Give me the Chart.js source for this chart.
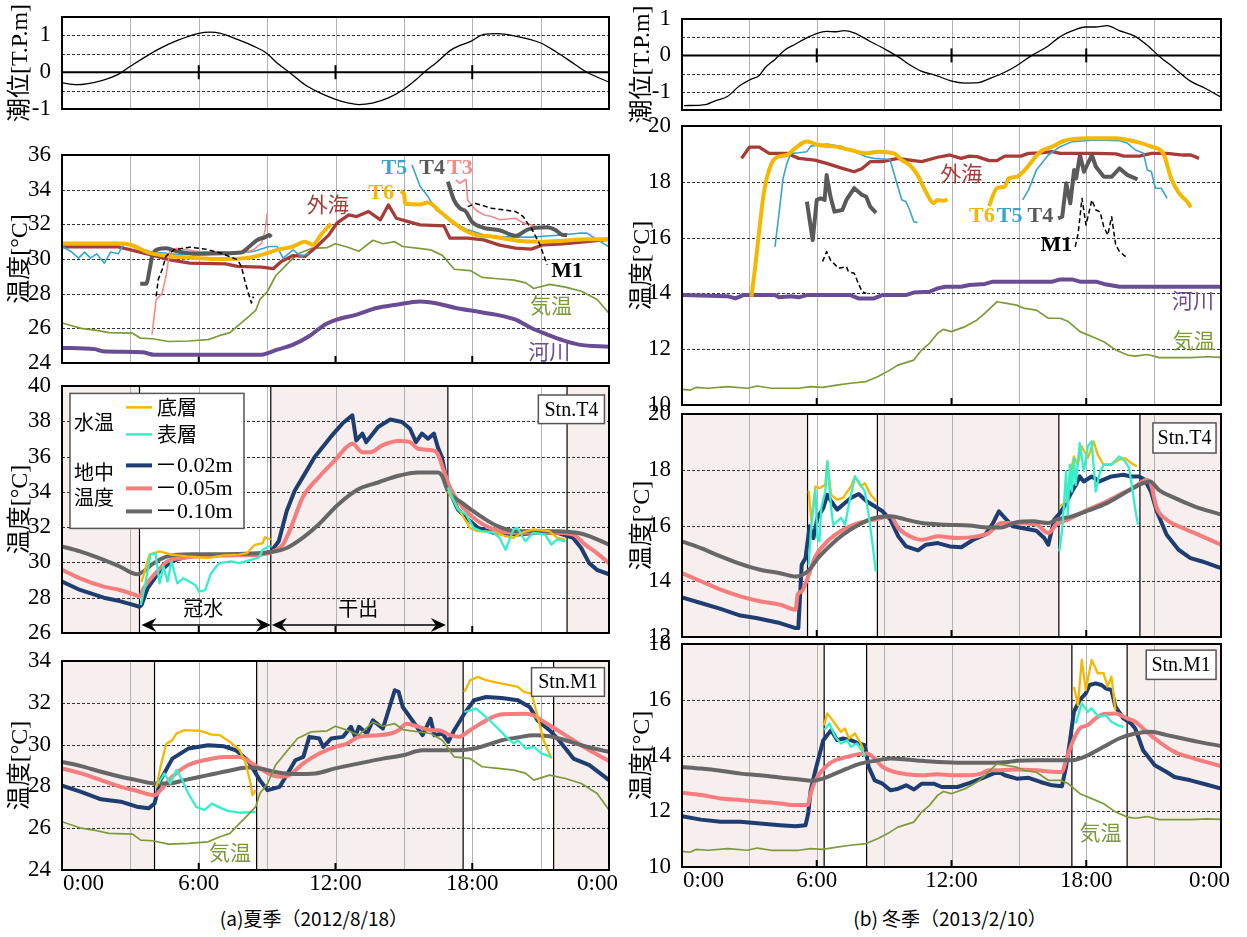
<!DOCTYPE html>
<html>
<head>
<meta charset="utf-8">
<script src="https://cdn.jsdelivr.net/npm/chart.js@4"></script>
<style>
  body { margin: 0; background: #fff; width: 1247px; height: 937px; position: relative; overflow: hidden; }
  canvas { position: absolute; }
  .cap { position: absolute; width: 320px; text-align: center; font-family: "Noto Sans CJK JP", sans-serif; font-size: 19px; line-height: 24px; color: #000; }
</style>
</head>
<body>
<div class="cap" style="left:154px;top:906px">(a)夏季（2012/8/18）</div>
<div class="cap" style="left:790px;top:906px">(b) 冬季（2013/2/10）</div>
<script>
// ---- summer (2012/8/18) : [hour, value] ----
const tideSummer = [[0,-0.29],[0.64,-0.34],[1.78,-0.22],[2.47,-0.06],[3.0,0.16],[4.22,0.62],[5.09,0.87],[5.96,1.05],[6.48,1.09],[7.0,1.05],[7.7,0.89],[8.4,0.71],[8.95,0.53],[9.44,0.25],[9.97,0],[10.66,-0.34],[11.18,-0.52],[11.97,-0.73],[12.58,-0.84],[13.01,-0.88],[13.62,-0.84],[14.32,-0.7],[14.98,-0.47],[15.54,-0.2],[15.89,0],[16.41,0.25],[17.11,0.62],[17.98,0.85],[18.5,1.03],[19.11,1.05],[19.9,0.98],[20.98,0.8],[21.64,0.57],[22.51,0.21],[23.03,0],[24,-0.27]];

const seaSummer = [[0,30.7],[2.47,30.7],[3.87,30.25],[4.74,29.95],[5.61,29.76],[7.18,29.72],[7.7,29.57],[8.75,29.53],[9.27,29.44],[9.62,29.86],[10.14,30.2],[10.66,30.15],[11.18,30.72],[11.71,31.39],[12.06,32.07],[12.58,32.55],[12.93,32.45],[13.45,32.74],[13.97,32.26],[14.32,33.12],[14.67,32.35],[15.19,32.16],[15.71,31.97],[16.76,31.91],[17.02,31.2],[17.8,31.2],[18.5,31.1],[19.2,30.8],[19.9,30.63],[20.59,30.57],[21.11,30.82],[21.99,30.88],[23.03,31.0],[24,31.14]];
const t6SummerA = [[0,30.9],[2.47,30.9],[3.0,30.82],[3.87,30.34],[4.91,30.15],[5.96,30.05],[7.0,30.0],[8.05,30.05],[8.75,30.24],[9.44,30.53],[10.14,30.72],[10.66,31.0],[11.01,30.82],[11.36,31.39],[11.8,32.03]];
const t6SummerB = [[14.85,33.9],[15.02,33.7],[15.05,33.2],[15.71,33.15],[16.06,33.26],[16.58,32.74],[17.11,32.16],[17.63,31.68],[18.15,31.39],[18.85,31.3],[19.9,31.07],[20.94,31.0],[21.99,31.05],[23.03,31.14],[24,31.14]];
const t5SummerA = [[0,30.72],[0.38,30.45],[0.73,30.05],[0.99,30.4],[1.25,30.05],[1.52,30.3],[1.86,29.76],[2.13,30.4],[2.47,30.3],[2.73,30.95],[3.17,30.7],[3.87,30.43],[5.09,30.25],[6.31,30.3],[7.7,30.33],[8.4,30.43],[9.09,30.72],[9.44,30.72],[9.7,30.05],[10.14,30.53],[10.49,30.15],[10.84,30.33]];
const t5SummerB = [[15.36,35.42],[15.71,34.18],[16.06,33.6],[16.41,32.83],[16.76,32.55],[17.11,32.16],[17.8,31.68],[18.5,31.4],[19.2,31.3],[19.9,31.26],[20.59,31.26],[21.29,31.33],[21.99,31.39],[22.68,31.49],[23.03,31.49],[23.38,31.2],[24,30.7]];
const t4SummerA = [[3.43,28.57],[3.69,28.57],[3.87,29.57],[3.95,30.15],[4.22,30.57],[4.56,30.62],[5.09,30.43],[5.96,30.3],[7.0,30.33],[7.87,30.38],[8.22,30.72],[8.57,31.1],[8.92,31.26],[9.09,31.39],[9.18,31.26]];
const t4SummerB = [[16.93,34.46],[17.2,33.4],[17.46,32.93],[17.72,32.74],[17.98,32.16],[18.5,31.8],[19.2,31.66],[19.9,31.34],[20.42,31.7],[21.29,31.83],[21.64,31.68],[21.99,31.39],[22.16,31.39]];
const t3SummerA = [[3.95,25.64],[4.13,27.65],[4.39,28.0],[4.56,29.0],[4.74,30.53],[5.09,30.62],[5.96,30.43],[7.0,30.38],[7.87,30.33],[8.4,30.53],[8.75,30.91],[8.92,31.68],[9.0,32.64]];
const t3SummerB = [[17.28,34.56],[17.46,34.37],[17.72,34.6],[17.8,33.4],[18.15,32.83],[18.5,32.55],[18.85,32.45],[19.2,32.26],[19.9,32.35],[20.24,32.07],[20.59,31.97],[20.94,31.78]];
const m1SummerA = [[4.13,27.84],[4.22,28.8],[4.39,29.38],[4.56,30.15],[4.91,30.53],[5.61,30.68],[6.31,30.57],[7.0,30.33],[7.7,29.95],[7.87,29.57],[8.05,28.6],[8.31,27.46],[8.4,27.84]];
const m1SummerB = [[17.8,33.02],[18.15,33.2],[18.85,32.93],[19.9,32.74],[20.24,32.45],[20.42,32.07],[20.59,31.78],[20.94,30.91],[21.29,29.67]];
const airSummer = [[0,26.31],[0.84,26.0],[1.53,25.88],[2.06,25.75],[3.1,25.72],[3.45,25.43],[3.97,25.4],[4.67,25.24],[5.54,25.27],[6.41,25.35],[6.93,25.59],[7.37,25.75],[7.8,26.24],[8.15,26.63],[8.5,27.03],[8.68,27.66],[9.02,28.14],[9.37,29.02],[9.9,29.73],[10.33,30.29],[10.94,30.61],[11.64,30.66],[11.99,30.88],[12.51,30.69],[13.03,30.45],[13.64,31.08],[14.08,30.88],[14.6,31.0],[14.95,30.72],[15.65,30.61],[16.17,30.53],[16.69,30.21],[17.21,29.41],[17.91,29.33],[18.43,28.94],[19.13,28.86],[19.83,28.78],[20.35,28.62],[20.7,28.3],[21.39,28.54],[22.09,28.38],[22.79,28.14],[23.48,27.66],[24,26.87]];
const riverSummer = [[0,24.87],[1.43,24.8],[1.78,24.68],[3.52,24.62],[4.04,24.48],[5.96,24.48],[8.75,24.48],[9.44,24.77],[10.14,25.06],[10.84,25.54],[11.53,26.21],[12.06,26.5],[12.93,26.79],[13.8,27.17],[14.67,27.36],[15.71,27.55],[16.41,27.45],[17.28,27.17],[18.15,26.98],[19.03,26.79],[19.9,26.5],[20.59,26.02],[21.29,25.64],[21.99,25.3],[22.68,25.06],[24,24.93]];

// Stn.T4 summer
const dryT4S = [[0,3.4],[9.16,16.93],[22.16,24]];
const bottomT4SA = [[3.49,28.9],[3.84,30.44],[4.28,30.63],[4.8,30.44],[5.5,30.34],[6.37,30.25],[7.07,30.4],[7.77,30.44],[8.12,30.53],[8.46,31.0],[8.81,31.1],[8.9,31.43],[9.16,31.3]];
const bottomT4SB = [[16.93,34.06],[17.37,33.1],[17.9,31.96],[18.25,31.77],[18.94,31.73],[19.46,31.49],[19.81,31.39],[20.16,31.68],[20.68,31.87],[21.38,31.77],[21.73,31.39],[22.08,31.3]];
const surfT4SA = [[3.46,27.58],[3.66,28.82],[3.88,30.44],[4.1,30.53],[4.28,28.82],[4.45,29.77],[4.63,28.91],[4.8,30.06],[5.06,28.82],[5.32,29.1],[5.85,28.72],[6.02,28.34],[6.28,28.43],[6.54,29.39],[6.89,29.96],[7.42,30.06],[7.77,29.96],[8.29,30.15],[8.64,30.29],[8.81,30.72],[9.07,30.91],[9.16,30.91]];
const surfT4SB = [[16.93,34.25],[17.37,33.0],[17.72,32.72],[18.06,31.96],[18.41,31.77],[18.94,31.68],[19.2,31.39],[19.46,30.72],[19.81,31.87],[19.98,31.96],[20.33,31.2],[20.68,31.68],[21.2,31.58],[21.47,31.01],[21.73,31.3],[22.08,31.2]];
const d02T4S = [[0,28.91],[0.79,28.44],[1.83,28.0],[2.53,27.81],[3.05,27.62],[3.4,27.49],[3.49,27.58],[3.75,28.53],[4.28,29.49],[4.8,30.06],[5.5,30.34],[6.89,30.4],[8.64,30.44],[9.16,30.6],[9.51,31.2],[9.86,32.91],[10.21,34.06],[10.56,34.82],[11.08,35.96],[11.78,37.1],[12.3,37.87],[12.74,38.34],[12.91,36.91],[13.18,37.3],[13.35,36.82],[13.87,37.68],[14.4,38.1],[14.92,37.96],[15.27,37.58],[15.53,36.82],[15.79,37.3],[16.06,37.01],[16.32,37.3],[16.49,36.53],[16.67,35.96],[16.93,34.25],[17.37,33.0],[17.9,32.34],[18.25,31.96],[18.94,31.68],[19.98,31.58],[20.86,31.68],[21.73,31.68],[22.43,31.39],[22.78,30.82],[23.13,29.96],[23.47,29.58],[24,29.33]];
const d05T4S = [[0,29.58],[0.79,29.1],[1.83,28.63],[2.53,28.44],[3.23,28.15],[3.4,28.06],[3.58,28.53],[4.1,29.39],[4.62,30.06],[5.32,30.25],[6.89,30.4],[8.64,30.44],[9.34,30.67],[9.69,31.01],[10.04,31.96],[10.56,33.68],[11.26,34.82],[11.96,35.77],[12.48,36.53],[12.74,36.72],[13.18,36.25],[13.53,36.25],[14.05,36.63],[14.75,36.88],[15.27,36.82],[15.62,36.44],[16.32,36.34],[16.49,36.15],[16.75,35.2],[17.02,34.25],[17.54,33.2],[18.25,32.34],[19.11,31.81],[19.98,31.68],[21.73,31.68],[22.43,31.58],[22.95,31.01],[23.47,30.53],[24,29.96]];
const d10T4S = [[0,30.91],[0.79,30.63],[1.83,30.15],[2.53,29.77],[3.32,29.33],[3.58,29.49],[3.93,29.87],[4.62,30.34],[5.67,30.47],[7.07,30.47],[9.16,30.59],[9.86,30.82],[10.56,31.39],[11.26,32.15],[12.13,33.3],[13.0,34.15],[13.87,34.53],[14.75,34.91],[15.62,35.1],[16.49,35.1],[16.67,34.91],[16.93,34.06],[17.54,33.39],[18.25,32.72],[19.11,32.06],[19.98,31.77],[21.73,31.77],[22.6,31.68],[23.13,31.49],[24,31.01]];

// Stn.M1 summer
const dryM1S = [[0,4.06],[8.54,17.6],[21.57,24]];
const bottomM1SA = [[4.15,27.98],[4.32,28.94],[4.58,30.05],[4.84,30.21],[5.02,30.53],[5.37,30.69],[6.06,30.66],[6.58,30.48],[6.93,30.45],[7.37,30.13],[7.8,29.73],[8.06,29.1],[8.24,28.3],[8.36,27.58],[8.5,27.82]];
const bottomM1SB = [[17.65,32.52],[17.91,33.08],[18.26,33.24],[18.61,33.08],[19.13,32.95],[19.65,32.84],[20.0,32.76],[20.26,32.52],[20.61,32.44],[20.87,31.32],[21.13,30.21],[21.48,29.33]];
const surfM1SA = [[4.23,28.14],[4.49,28.62],[4.75,28.14],[5.02,28.78],[5.28,28.3],[5.54,27.66],[5.89,27.02],[6.24,26.87],[6.58,27.18],[6.85,27.02],[7.28,26.83],[7.8,26.74],[8.5,26.78]];
const surfM1SB = [[17.65,31.56],[17.91,31.64],[18.17,31.72],[18.61,31.32],[19.13,30.77],[19.48,30.37],[19.83,30.05],[20.0,30.21],[20.35,29.81],[20.7,29.89],[21.05,29.57],[21.48,29.41]];
const d02M1S = [[0,28.03],[0.84,27.74],[1.71,27.38],[2.58,27.27],[3.28,27.03],[3.8,26.95],[4.06,27.18],[4.32,28.3],[4.84,29.33],[5.54,29.81],[6.41,29.97],[7.11,29.92],[7.63,29.73],[8.15,29.25],[8.68,28.3],[9.02,27.82],[9.55,27.98],[9.9,28.62],[10.24,29.25],[10.59,29.41],[10.85,30.37],[11.29,30.29],[11.46,29.89],[11.81,30.29],[12.33,30.37],[12.68,30.85],[12.86,30.37],[13.03,30.85],[13.38,30.53],[13.64,31.16],[14.08,30.77],[14.6,32.6],[14.77,32.52],[14.95,31.8],[15.47,31.0],[15.82,30.45],[16.17,31.24],[16.34,30.45],[16.69,30.53],[16.95,30.13],[17.21,30.69],[17.65,31.48],[18.08,32.12],[18.61,32.28],[19.3,32.23],[20.0,32.12],[20.52,31.8],[20.87,31.16],[21.39,30.69],[21.74,30.29],[22.44,29.33],[23.14,29.02],[24,28.3]];
const d05M1S = [[0,28.86],[0.84,28.62],[1.71,28.3],[2.58,27.98],[3.28,27.79],[4.06,27.58],[4.32,27.82],[4.84,28.46],[5.54,29.02],[6.41,29.29],[7.11,29.41],[7.8,29.41],[8.24,29.17],[8.68,28.86],[9.2,28.54],[9.55,28.46],[9.9,28.5],[10.59,29.1],[11.29,29.57],[11.99,29.89],[12.51,30.05],[13.03,30.37],[13.9,30.45],[14.43,30.53],[14.77,30.69],[15.12,31.0],[15.65,30.85],[16.17,30.69],[16.52,30.69],[17.04,30.45],[17.39,30.37],[17.91,30.69],[18.61,31.16],[19.3,31.45],[20.35,31.48],[20.7,31.4],[21.05,31.16],[21.74,30.69],[22.44,30.21],[23.14,29.73],[24,29.22]];
const d10M1S = [[0,29.17],[0.84,28.97],[1.71,28.7],[2.58,28.46],[3.28,28.3],[4.06,28.14],[4.67,28.14],[5.37,28.3],[6.41,28.54],[7.28,28.74],[8.15,28.9],[8.68,28.86],[9.55,28.65],[10.24,28.59],[11.11,28.62],[11.99,28.86],[13.03,29.1],[14.08,29.33],[14.95,29.49],[15.82,29.73],[16.52,29.73],[17.39,29.73],[18.08,29.81],[18.61,29.97],[19.3,30.21],[20.0,30.34],[20.7,30.45],[21.39,30.4],[22.09,30.21],[22.79,29.97],[24,29.65]];

// ---- winter (2013/2/10) ----
const tideWinter = [[0.09,-1.38],[1.06,-1.35],[1.5,-1.24],[2.02,-1.13],[2.55,-0.84],[3.08,-0.65],[3.43,-0.56],[3.7,-0.34],[4.14,-0.11],[4.58,0.15],[5.02,0.3],[5.55,0.48],[5.99,0.6],[6.43,0.66],[6.87,0.65],[7.22,0.68],[7.66,0.62],[8.36,0.39],[9.07,0.16],[9.68,-0.06],[10.12,-0.25],[10.65,-0.43],[11.36,-0.56],[11.97,-0.7],[12.59,-0.76],[13.2,-0.75],[13.64,-0.65],[14.35,-0.47],[14.88,-0.29],[15.58,0],[16.29,0.25],[16.82,0.51],[17.52,0.71],[17.96,0.78],[18.4,0.78],[18.93,0.82],[19.44,0.69],[20.16,0.53],[20.77,0.25],[21.21,0],[21.9,-0.34],[22.62,-0.7],[23.31,-0.91],[24,-1.15]];

const seaWinter = [[2.65,18.84],[3.0,19.24],[3.44,19.24],[3.88,19.02],[4.67,19.02],[5.2,18.84],[5.91,18.78],[6.44,18.66],[7.14,18.48],[7.67,18.36],[8.02,18.48],[8.38,18.72],[8.91,18.72],[9.61,18.84],[10.32,18.76],[10.67,18.72],[11.38,18.88],[11.9,18.96],[12.43,18.84],[12.79,18.92],[13.14,18.9],[13.67,18.76],[14.02,18.76],[14.37,18.92],[15.08,18.92],[15.43,19.02],[15.96,19.04],[16.49,19.08],[16.84,19.02],[17.55,19.02],[18.43,19.02],[19.32,19.0],[19.67,18.92],[20.37,18.92],[20.9,19.02],[21.6,19.02],[22.31,18.96],[22.66,18.96],[23.02,18.84]];
const t6WinterA = [[3.09,13.88],[3.26,14.96],[3.44,16.27],[3.62,17.47],[3.79,18.18],[4.14,18.84],[4.67,18.96],[5.03,19.2],[5.56,19.44],[6.08,19.32],[6.79,19.26],[7.5,19.14],[8.2,19.02],[8.73,19.08],[9.44,19.02],[9.79,18.78],[10.14,18.6],[10.49,18.24],[10.85,17.65],[11.2,17.23],[11.38,17.35],[11.64,17.32],[11.82,17.37]];
const t6WinterB = [[13.67,17.13],[14.02,17.77],[14.37,17.83],[14.55,18.12],[14.9,18.18],[15.26,18.42],[15.96,19.08],[16.49,19.26],[17.02,19.47],[18.07,19.56],[19.3,19.56],[20.19,19.44],[20.9,19.26],[21.43,19.02],[21.78,18.12],[22.13,17.59],[22.49,17.29],[22.66,17.08]];
const t5WinterA = [[4.14,15.67],[4.32,16.87],[4.5,18.12],[4.67,18.66],[4.85,19.02],[5.2,19.04],[5.56,19.08],[5.73,19.28],[6.08,19.32],[6.44,19.35],[7.14,19.26],[7.85,19.02],[8.2,18.9],[8.55,18.84],[9.26,18.8],[9.44,18.3],[9.61,17.83],[9.79,17.35],[9.97,17.29],[10.14,16.99],[10.32,16.57],[10.49,16.54]];
const t5WinterB = [[15.17,17.35],[15.43,17.71],[15.78,18.42],[16.31,18.96],[16.84,19.26],[17.37,19.44],[18.43,19.5],[19.48,19.47],[19.84,19.38],[20.19,19.14],[20.55,19.02],[20.72,18.42],[20.9,18.36],[21.08,17.77],[21.34,17.77],[21.6,17.41]];
const t4WinterA = [[5.56,17.29],[5.82,15.91],[6.0,17.35],[6.17,17.41],[6.35,17.35],[6.44,18.24],[6.61,17.47],[6.79,16.93],[7.14,16.99],[7.32,17.35],[7.67,17.77],[8.02,17.53],[8.2,17.47],[8.38,17.11],[8.64,16.89]];
const t4WinterB = [[16.75,16.69],[16.93,16.75],[17.11,17.95],[17.29,17.23],[17.46,18.42],[17.55,18.12],[17.72,18.96],[17.9,18.36],[18.25,18.96],[18.43,18.54],[18.78,18.18],[19.13,18.18],[19.48,18.48],[19.84,18.24],[20.28,18.09]];
const m1WinterA = [[6.26,15.14],[6.44,15.5],[6.61,15.2],[6.97,14.9],[7.32,14.96],[7.41,14.78],[7.67,14.72],[7.85,14.36],[8.02,14.06],[8.2,14.0]];
const m1WinterB = [[17.51,15.67],[17.64,16.15],[17.81,17.41],[17.99,16.45],[18.25,17.35],[18.43,16.99],[18.61,16.93],[18.78,16.39],[18.96,16.09],[19.13,16.75],[19.31,15.74],[19.48,15.5],[19.75,15.32]];
const riverWinter = [[0,13.94],[2.03,13.9],[2.38,13.82],[2.73,13.94],[4.14,13.94],[4.32,13.86],[4.85,13.9],[5.2,13.86],[5.56,13.94],[7.5,13.94],[7.85,13.82],[8.55,13.82],[8.91,13.94],[9.96,13.94],[10.32,14.03],[11.02,14.06],[11.38,14.18],[11.73,14.24],[12.43,14.24],[12.79,14.3],[13.49,14.34],[13.84,14.42],[16.49,14.42],[16.84,14.5],[17.37,14.5],[17.72,14.42],[18.43,14.42],[18.78,14.34],[19.48,14.24],[24,14.24]];
const airWinter = [[0,10.56],[0.35,10.53],[0.62,10.63],[1.15,10.6],[2.03,10.66],[2.91,10.6],[3.35,10.68],[3.97,10.6],[5.2,10.6],[5.73,10.66],[6.26,10.63],[6.97,10.72],[7.5,10.78],[8.2,10.84],[8.73,11.02],[9.26,11.25],[9.61,11.43],[10.32,11.61],[10.67,11.97],[11.02,12.21],[11.38,12.57],[11.64,12.71],[11.99,12.63],[12.61,12.81],[13.14,13.05],[13.49,13.29],[14.02,13.7],[14.46,13.64],[14.9,13.58],[15.26,13.46],[15.78,13.4],[16.31,13.11],[16.84,13.11],[17.2,12.99],[17.72,12.63],[18.43,12.39],[18.78,12.27],[19.31,11.97],[19.84,11.79],[20.19,11.75],[20.72,11.81],[21.25,11.7],[21.96,11.7],[22.66,11.7],[23.37,11.73],[24,11.71]];

// Stn.T4 winter
const dryT4W = [[0,5.59],[8.7,16.78],[20.39,24]];
const bottomT4WA = [[5.64,17.25],[5.76,16.15],[5.94,17.4],[6.12,17.34],[6.38,17.46],[6.47,18.3],[6.64,17.1],[6.91,16.93],[7.17,16.99],[7.52,17.4],[7.7,17.76],[7.96,17.4],[8.14,17.52],[8.4,17.1],[8.66,16.87]];
const bottomT4WB = [[16.84,16.69],[17.1,16.87],[17.27,17.76],[17.45,18.48],[17.62,18.18],[17.8,18.84],[18.07,18.42],[18.33,19.02],[18.51,18.54],[18.77,18.18],[19.12,18.2],[19.47,18.36],[19.73,18.42],[20.0,18.24],[20.26,18.12]];
const surfT4WA = [[5.64,14.59],[5.76,16.03],[5.94,17.28],[6.03,15.55],[6.12,15.43],[6.2,16.63],[6.38,17.22],[6.47,18.3],[6.64,16.63],[6.73,16.03],[6.91,16.15],[7.08,16.27],[7.26,16.03],[7.43,16.75],[7.7,17.76],[7.96,17.46],[8.14,17.22],[8.31,16.39],[8.49,15.31],[8.63,14.35]];
const surfT4WB = [[16.8,15.07],[16.92,15.79],[17.01,16.75],[17.1,17.94],[17.18,16.39],[17.27,18.18],[17.36,17.22],[17.45,18.42],[17.53,17.46],[17.71,18.96],[17.89,17.94],[18.07,18.84],[18.24,19.02],[18.42,17.22],[18.6,17.88],[18.77,18.18],[19.12,18.18],[19.47,18.48],[19.73,18.3],[19.91,18.06],[20.09,17.1],[20.17,16.63],[20.3,16.03]];
const d02T4W = [[0,13.42],[0.84,13.22],[1.72,13.01],[2.6,12.77],[3.3,12.68],[4.36,12.5],[5.06,12.32],[5.18,12.32],[5.33,14.59],[5.5,14.83],[5.68,15.97],[5.85,15.55],[6.03,16.27],[6.29,16.63],[6.47,17.1],[6.64,16.87],[6.91,16.57],[7.17,16.75],[7.52,16.99],[7.87,17.13],[8.22,16.87],[8.58,16.69],[8.93,16.51],[9.28,16.21],[9.63,15.61],[9.98,15.25],[10.51,15.11],[10.86,15.31],[11.39,15.37],[11.92,15.25],[12.44,15.22],[12.97,15.49],[13.5,15.67],[13.85,16.09],[14.11,16.51],[14.38,16.27],[14.73,15.97],[15.25,15.89],[15.78,15.81],[16.13,15.55],[16.31,15.31],[16.57,16.21],[16.84,16.45],[17.1,16.81],[17.36,17.22],[17.54,17.46],[17.71,17.76],[17.89,17.58],[18.24,17.76],[18.59,17.58],[19.12,17.76],[19.65,17.82],[20.0,17.76],[20.35,17.76],[20.61,17.64],[20.88,17.22],[21.14,16.51],[21.58,15.67],[22.11,15.13],[22.64,14.83],[23.16,14.71],[24,14.47]];
const d05T4W = [[0,14.29],[0.84,14.0],[1.72,13.7],[2.6,13.46],[3.48,13.28],[4.36,13.16],[5.06,12.98],[5.15,13.52],[5.33,13.64],[5.59,14.11],[5.94,14.89],[6.47,15.43],[7.17,15.85],[7.87,16.09],[8.58,16.21],[9.28,16.33],[9.63,15.91],[10.33,15.55],[10.68,15.49],[11.39,15.61],[12.27,15.55],[13.15,15.61],[13.67,15.73],[14.2,16.09],[14.9,16.09],[15.78,16.03],[16.31,15.73],[16.66,16.03],[17.19,16.21],[18.07,16.57],[18.77,16.81],[19.47,17.1],[20.18,17.4],[20.7,17.64],[20.88,17.46],[21.14,16.63],[21.58,16.21],[22.29,15.91],[22.99,15.67],[24,15.31]];
const d10T4W = [[0,15.43],[0.84,15.19],[1.72,14.89],[2.6,14.62],[3.48,14.41],[4.36,14.29],[5.06,14.17],[5.59,14.35],[6.12,14.89],[6.64,15.31],[7.17,15.67],[7.87,16.03],[8.58,16.27],[9.28,16.33],[9.98,16.21],[10.68,16.09],[11.74,16.03],[12.79,16.0],[13.67,15.93],[14.2,15.93],[14.9,16.12],[15.61,16.15],[16.31,16.09],[16.66,16.21],[17.36,16.33],[18.07,16.53],[18.94,16.81],[19.82,17.22],[20.53,17.52],[20.84,17.58],[21.23,17.28],[21.93,16.99],[22.81,16.69],[24,16.39]];

// Stn.M1 winter
const dryM1W = [[0,6.33],[8.22,17.36],[19.82,24]];
const bottomM1WA = [[6.33,15.09],[6.47,15.51],[6.64,15.33],[6.91,15.03],[7.08,14.85],[7.26,14.97],[7.43,14.61],[7.7,14.79],[7.96,14.43],[8.08,14.19]];
const bottomM1WB = [[17.45,16.47],[17.63,15.81],[17.8,17.43],[17.98,16.35],[18.24,17.43],[18.51,16.95],[18.77,16.95],[18.95,16.47],[19.12,16.83],[19.3,15.63]];
const surfM1WA = [[6.33,14.91],[6.56,15.15],[6.82,14.67],[7.08,14.43],[7.35,14.55],[7.52,14.31],[7.79,14.43],[8.05,14.13],[8.14,13.95]];
const surfM1WB = [[17.54,15.15],[17.8,15.87],[18.07,15.57],[18.24,15.69],[18.42,15.51],[18.6,15.39],[18.86,15.45],[19.12,15.21],[19.38,15.09],[19.65,15.03]];
const d02M1W = [[0,11.82],[0.84,11.7],[1.72,11.62],[2.6,11.62],[3.48,11.56],[4.36,11.5],[5.06,11.46],[5.5,11.5],[5.62,11.92],[5.73,12.75],[5.94,13.47],[6.29,14.55],[6.64,14.91],[6.91,14.55],[7.17,14.61],[7.52,14.55],[7.87,14.43],[8.14,14.37],[8.31,13.59],[8.58,13.11],[8.93,12.99],[9.28,12.75],[9.63,12.81],[9.98,12.93],[10.33,12.78],[10.68,12.99],[11.21,12.99],[11.56,12.87],[11.92,12.87],[12.27,12.87],[12.79,13.01],[13.32,13.17],[13.85,13.35],[14.11,13.41],[14.38,13.29],[14.9,13.17],[15.43,13.2],[15.96,13.05],[16.48,12.93],[16.92,12.9],[17.1,13.59],[17.28,14.55],[17.45,15.57],[17.71,15.99],[17.98,16.23],[18.15,16.53],[18.42,16.59],[18.68,16.53],[18.86,16.41],[19.12,16.35],[19.3,15.75],[19.65,15.33],[20.0,15.15],[20.18,14.97],[20.53,14.19],[21.05,13.65],[21.58,13.41],[21.93,13.23],[22.64,13.11],[23.34,12.96],[24,12.81]];
const d05M1W = [[0,12.66],[0.84,12.58],[1.72,12.46],[2.6,12.4],[3.48,12.34],[4.36,12.28],[5.06,12.22],[5.59,12.22],[5.73,12.64],[5.94,13.11],[6.47,13.65],[6.82,13.83],[7.35,13.95],[7.87,14.05],[8.22,14.07],[8.58,13.89],[8.93,13.59],[9.45,13.41],[9.98,13.33],[10.68,13.29],[11.39,13.33],[12.09,13.29],[12.79,13.29],[13.32,13.35],[13.67,13.47],[14.2,13.47],[14.9,13.5],[15.78,13.47],[16.66,13.41],[16.92,13.41],[17.1,13.83],[17.36,14.43],[17.71,14.97],[18.07,15.09],[18.42,15.33],[18.77,15.49],[19.3,15.51],[19.82,15.33],[20.18,15.21],[20.53,14.97],[21.05,14.61],[21.93,14.13],[22.81,13.89],[24,13.62]];
const d10M1W = [[0,13.59],[0.84,13.53],[1.72,13.45],[2.6,13.35],[3.48,13.29],[4.36,13.21],[5.24,13.14],[5.76,13.09],[6.29,13.18],[6.82,13.35],[7.35,13.53],[7.87,13.69],[8.58,13.81],[9.28,13.89],[9.98,13.86],[10.68,13.81],[11.39,13.77],[12.44,13.74],[13.15,13.74],[13.85,13.74],[14.55,13.77],[14.9,13.81],[15.78,13.83],[16.66,13.83],[17.36,13.83],[18.07,14.01],[18.77,14.31],[19.47,14.61],[20.18,14.79],[20.88,14.85],[21.58,14.73],[22.29,14.61],[22.99,14.49],[24,14.34]];

// tick labels
const xTickLabels = [[0, '0:00'], [6, '6:00'], [12, '12:00'], [18, '18:00'], [24, '0:00']];
const legendWater = [['底層', 'bottom'], ['表層', 'surf']];
const legendSoil = [['－0.02m', 'd02'], ['－0.05m', 'd05'], ['－0.10m', 'd10']];

const SERIF = "'Liberation Serif', 'Noto Sans CJK JP', serif";
const JP = "'Noto Sans CJK JP', sans-serif";
const BOLD = "bold 22px " + SERIF;
const JPF = "21px " + JP;
const SHADE = '#f7eeee';
const C = {
  sea: '#a63b37', t6: '#f6b700', t5: '#3aa5cb', t4: '#5a5a5a', t3: '#f58a8a', m1: '#000',
  air: '#7d9a3a', river: '#6a4c94', bottom: '#f6b700', surf: '#33f0cc',
  d02: '#1e3d70', d05: '#f57d7d', d10: '#676767'
};

function pts(a) { return a.map(p => ({x: p[0], y: p[1]})); }
function joined(a, b) {
  return pts(a).concat([{x: (a[a.length - 1][0] + b[0][0]) / 2, y: null}], pts(b));
}
function line(data, color, width, smooth, dash) {
  return {
    data: data, borderColor: color, borderWidth: width, pointRadius: 0, fill: false,
    tension: 0, cubicInterpolationMode: smooth ? 'monotone' : 'default',
    borderDash: dash || [], borderJoinStyle: 'round', borderCapStyle: 'butt'
  };
}

function vline(ctx, x, y0, y1) { ctx.beginPath(); ctx.moveTo(x, y0); ctx.lineTo(x, y1); ctx.stroke(); }
function hline(ctx, x0, x1, y) { ctx.beginPath(); ctx.moveTo(x0, y); ctx.lineTo(x1, y); ctx.stroke(); }

function arrowHead(ctx, x, y, dir) {
  ctx.beginPath();
  ctx.moveTo(x, y);
  ctx.lineTo(x + dir * 15, y - 7);
  ctx.lineTo(x + dir * 10, y);
  ctx.lineTo(x + dir * 15, y + 7);
  ctx.closePath();
  ctx.fill();
}

const PANELS = {};

const framePlugin = {
  id: 'frame',
  beforeDatasetsDraw(chart) {
    const o = PANELS[chart.canvas.id];
    const ctx = chart.ctx, a = chart.chartArea, x = chart.scales.x, y = chart.scales.y;
    ctx.save();
    if (o.spans) {
      ctx.fillStyle = SHADE;
      o.spans.forEach(s => {
        const x0 = x.getPixelForValue(s[0]), x1 = x.getPixelForValue(s[1]);
        ctx.fillRect(x0, a.top, x1 - x0, a.bottom - a.top);
      });
    }
    ctx.strokeStyle = '#b2b2b2';
    ctx.lineWidth = 1;
    for (let h = 3; h < 24; h += 3) vline(ctx, Math.round(x.getPixelForValue(h)) + 0.5, a.top, a.bottom);
    ctx.strokeStyle = '#333';
    ctx.setLineDash([3, 2]);
    o.dashed.forEach(v => hline(ctx, a.left, a.right, Math.round(y.getPixelForValue(v)) + 0.5));
    ctx.setLineDash([]);
    if (o.spans) {
      ctx.strokeStyle = '#000';
      ctx.lineWidth = 1.2;
      o.spans.forEach(s => s.forEach(h => {
        if (h > 0 && h < 24) vline(ctx, x.getPixelForValue(h), a.top, a.bottom);
      }));
    }
    ctx.strokeStyle = '#000';
    ctx.lineWidth = 2;
    if (o.zero) {
      const y0 = y.getPixelForValue(0);
      hline(ctx, a.left, a.right, y0);
      [6, 12, 18].forEach(h => vline(ctx, x.getPixelForValue(h), y0 - 7, y0 + 7));
    } else {
      [6, 12, 18].forEach(h => vline(ctx, x.getPixelForValue(h), a.bottom - 7, a.bottom));
    }
    ctx.restore();
  },
  afterDatasetsDraw(chart) {
    const o = PANELS[chart.canvas.id];
    const ctx = chart.ctx, a = chart.chartArea, x = chart.scales.x, y = chart.scales.y;
    ctx.save();
    ctx.strokeStyle = '#000';
    ctx.lineWidth = 2;
    ctx.strokeRect(a.left, a.top, a.right - a.left, a.bottom - a.top);

    ctx.textAlign = 'center';
    ctx.textBaseline = 'middle';
    (o.labels || []).forEach(l => {
      ctx.font = l.f;
      ctx.fillStyle = l.c;
      ctx.fillText(l.t, x.getPixelForValue(l.x), y.getPixelForValue(l.y));
    });

    if (o.box) {
      const b = o.box;
      const x0 = x.getPixelForValue(b.x0), x1 = x.getPixelForValue(b.x1);
      const y0 = y.getPixelForValue(b.y0), y1 = y.getPixelForValue(b.y1);
      ctx.fillStyle = '#fff';
      ctx.fillRect(x0, y0, x1 - x0, y1 - y0);
      ctx.strokeStyle = '#555';
      ctx.lineWidth = 1.5;
      ctx.strokeRect(x0, y0, x1 - x0, y1 - y0);
      ctx.fillStyle = '#000';
      ctx.font = '20px ' + SERIF;
      ctx.fillText(b.t, (x0 + x1) / 2, (y0 + y1) / 2 + 1);
    }

    if (o.legend) {
      const lx = x.getPixelForValue(0.35), ly = y.getPixelForValue(39.58);
      ctx.fillStyle = '#fff';
      ctx.fillRect(lx, ly, 174, 135);
      ctx.strokeStyle = '#555';
      ctx.lineWidth = 1.5;
      ctx.strokeRect(lx, ly, 174, 135);
      ctx.fillStyle = '#000';
      ctx.font = '20px ' + JP;
      ctx.fillText('水温', lx + 24, ly + 29);
      ctx.fillText('地中', lx + 24, ly + 79);
      ctx.fillText('温度', lx + 24, ly + 104);
      ctx.textAlign = 'left';
      legendWater.forEach((it, i) => {
        const yy = ly + 14 + i * 27;
        ctx.strokeStyle = C[it[1]];
        ctx.lineWidth = 2.5;
        hline(ctx, lx + 56, lx + 82, yy);
        ctx.fillStyle = '#000';
        ctx.font = '20px ' + JP;
        ctx.fillText(it[0], lx + 87, yy);
      });
      legendSoil.forEach((it, i) => {
        const yy = ly + 72 + i * 23;
        ctx.strokeStyle = C[it[1]];
        ctx.lineWidth = 4;
        hline(ctx, lx + 56, lx + 82, yy);
        ctx.fillStyle = '#000';
        ctx.font = '22px ' + SERIF;
        ctx.fillText(it[0], lx + 85, yy + 1);
      });
      ctx.textAlign = 'center';
    }

    (o.arrows || []).forEach(ar => {
      const xa = x.getPixelForValue(ar.from), xb = x.getPixelForValue(ar.to), yy = a.bottom - 8;
      ctx.strokeStyle = '#000';
      ctx.fillStyle = '#000';
      ctx.lineWidth = 1.5;
      hline(ctx, xa + 10, xb - 10, yy);
      arrowHead(ctx, xa, yy, 1);
      arrowHead(ctx, xb, yy, -1);
      ctx.font = '20px ' + JP;
      ctx.fillText(ar.t, x.getPixelForValue(ar.mid), a.bottom - 25);
    });

    if (o.xlabels) {
      ctx.fillStyle = '#000';
      ctx.font = '23px ' + SERIF;
      xTickLabels.forEach((t, i) => {
        let px = x.getPixelForValue(t[0]);
        if (i === 0) { ctx.textAlign = 'left'; px += 1; }
        else if (i === xTickLabels.length - 1) { ctx.textAlign = 'right'; px += 9; }
        else ctx.textAlign = 'center';
        ctx.fillText(t[1], px, a.bottom + 14);
      });
      ctx.textAlign = 'center';
    }

    ctx.translate(o.titleX, (a.top + a.bottom) / 2);
    ctx.rotate(-Math.PI / 2);
    ctx.fillStyle = '#000';
    ctx.font = '24px ' + SERIF;
    ctx.fillText(o.ytitle, 0, 0);
    ctx.restore();
  }
};

function panel(id, col, top, bottom, ymin, ymax, step, datasets, cfg) {
  const colLeft = col === 0 ? 0 : 620;
  const colWidth = col === 0 ? 620 : 627;
  const padR = col === 0 ? 11 : 26;
  const padT = 30, padB = cfg.xlabels ? 55 : 30;
  const c = document.createElement('canvas');
  c.id = id;
  c.width = colWidth;
  c.height = bottom - top + padT + padB;
  c.style.left = colLeft + 'px';
  c.style.top = (top - padT) + 'px';
  document.body.appendChild(c);
  cfg.titleX = col === 0 ? 21 : 23;
  PANELS[id] = cfg;
  const intOnly = step < 1;
  new Chart(c, {
    type: 'line',
    data: {datasets: datasets},
    plugins: [framePlugin],
    options: {
      responsive: false,
      animation: false,
      events: [],
      layout: {padding: {left: 0, right: padR, top: padT, bottom: padB}},
      plugins: {legend: {display: false}, tooltip: {enabled: false}},
      scales: {
        x: {type: 'linear', min: 0, max: 24, display: false},
        y: {
          min: ymin, max: ymax,
          afterFit: s => { s.width = 62; },
          grid: {display: false},
          border: {display: false},
          ticks: {
            stepSize: step, autoSkip: false, padding: 3, color: '#000',
            font: {family: SERIF, size: 23},
            callback: v => (intOnly && !Number.isInteger(v)) ? '' : String(v)
          }
        }
      }
    }
  });
}

// ---------- summer column ----------
panel('tideS', 0, 17, 109, -1, 1.5, 0.5,
  [line(pts(tideSummer), '#000', 1.3, true)],
  {dashed: [-0.5, 0.5, 1], zero: true, ytitle: '潮位[T.P.m]'});

panel('tempS', 0, 155, 363, 24, 36, 2, [
  line(joined(m1SummerA, m1SummerB), C.m1, 1.5, false, [5, 3]),
  line(joined(t6SummerA, t6SummerB), C.t6, 4, true),
  line(joined(t4SummerA, t4SummerB), C.t4, 4, true),
  line(joined(t3SummerA, t3SummerB), C.t3, 1.6, false),
  line(joined(t5SummerA, t5SummerB), C.t5, 1.6, false),
  line(pts(seaSummer), C.sea, 3.3, false),
  line(pts(airSummer), C.air, 1.7, false),
  line(pts(riverSummer), C.river, 4, true)
], {
  dashed: [26, 28, 30, 32, 34], ytitle: '温度[°C]',
  labels: [
    {t: 'T5', x: 14.58, y: 35.23, c: C.t5, f: BOLD},
    {t: 'T4', x: 16.24, y: 35.23, c: C.t4, f: BOLD},
    {t: 'T3', x: 17.46, y: 35.23, c: C.t3, f: BOLD},
    {t: 'T6', x: 14.0, y: 33.8, c: C.t6, f: BOLD},
    {t: '外海', x: 11.66, y: 33.2, c: C.sea, f: JPF},
    {t: 'M1', x: 22.16, y: 29.28, c: '#000', f: BOLD},
    {t: '気温', x: 21.46, y: 27.36, c: C.air, f: JPF},
    {t: '河川', x: 21.38, y: 24.68, c: C.river, f: JPF}
  ]
});

panel('t4S', 0, 386, 633, 26, 40, 2, [
  line(joined(surfT4SA, surfT4SB), C.surf, 2.3, false),
  line(joined(bottomT4SA, bottomT4SB), C.bottom, 2.3, false),
  line(pts(d10T4S), C.d10, 4, true),
  line(pts(d05T4S), C.d05, 4, true),
  line(pts(d02T4S), C.d02, 4, false)
], {
  dashed: [28, 30, 32, 34, 36, 38], spans: dryT4S, ytitle: '温度[°C]', legend: true,
  box: {t: 'Stn.T4', x0: 20.9, x1: 23.8, y0: 39.49, y1: 37.87},
  arrows: [{t: '冠水', from: 3.49, to: 9.16, mid: 6.2}, {t: '干出', from: 9.21, to: 16.84, mid: 13.0}]
});

panel('m1S', 0, 661, 870, 24, 34, 2, [
  line(pts(airSummer), C.air, 1.7, false),
  line(joined(surfM1SA, surfM1SB), C.surf, 2.3, false),
  line(joined(bottomM1SA, bottomM1SB), C.bottom, 2.3, false),
  line(pts(d10M1S), C.d10, 4, true),
  line(pts(d05M1S), C.d05, 4, true),
  line(pts(d02M1S), C.d02, 4, false)
], {
  dashed: [26, 28, 30, 32], spans: dryM1S, ytitle: '温度[°C]', xlabels: true,
  box: {t: 'Stn.M1', x0: 20.6, x1: 23.8, y0: 33.68, y1: 32.31},
  labels: [{t: '気温', x: 7.37, y: 24.88, c: C.air, f: JPF}]
});

// ---------- winter column ----------
panel('tideW', 1, 19, 110, -1.5, 1, 0.5,
  [line(pts(tideWinter), '#000', 1.3, true)],
  {dashed: [-1, -0.5, 0.5], zero: true, ytitle: '潮位[T.P.m]'});

panel('tempW', 1, 126, 405, 10, 20, 2, [
  line(joined(m1WinterA, m1WinterB), C.m1, 1.5, false, [5, 3]),
  line(joined(t6WinterA, t6WinterB), C.t6, 4, true),
  line(joined(t4WinterA, t4WinterB), C.t4, 4, false),
  line(joined(t5WinterA, t5WinterB), C.t5, 1.6, false),
  line(pts(seaWinter), C.sea, 3.3, false),
  line(pts(airWinter), C.air, 1.7, false),
  line(pts(riverWinter), C.river, 4, false)
], {
  dashed: [12, 14, 16, 18], ytitle: '温度[°C]',
  labels: [
    {t: '外海', x: 12.43, y: 18.3, c: C.sea, f: JPF},
    {t: 'T6', x: 13.35, y: 16.75, c: C.t6, f: BOLD},
    {t: 'T5', x: 14.59, y: 16.75, c: C.t5, f: BOLD},
    {t: 'T4', x: 15.96, y: 16.75, c: C.t4, f: BOLD},
    {t: 'M1', x: 16.67, y: 15.73, c: '#000', f: BOLD},
    {t: '河川', x: 22.75, y: 13.76, c: C.river, f: JPF},
    {t: '気温', x: 22.79, y: 12.33, c: C.air, f: JPF}
  ]
});

panel('t4W', 1, 414, 637, 12, 20, 2, [
  line(joined(surfT4WA, surfT4WB), C.surf, 2.3, false),
  line(joined(bottomT4WA, bottomT4WB), C.bottom, 2.3, false),
  line(pts(d10T4W), C.d10, 4, true),
  line(pts(d05T4W), C.d05, 4, true),
  line(pts(d02T4W), C.d02, 4, false)
], {
  dashed: [14, 16, 18], spans: dryT4W, ytitle: '温度[°C]',
  box: {t: 'Stn.T4', x0: 20.97, x1: 23.78, y0: 19.68, y1: 18.6}
});

panel('m1W', 1, 644, 867, 10, 18, 2, [
  line(pts(airWinter), C.air, 1.7, false),
  line(joined(surfM1WA, surfM1WB), C.surf, 2.3, false),
  line(joined(bottomM1WA, bottomM1WB), C.bottom, 2.3, false),
  line(pts(d10M1W), C.d10, 4, true),
  line(pts(d05M1W), C.d05, 4, true),
  line(pts(d02M1W), C.d02, 4, false)
], {
  dashed: [12, 14, 16], spans: dryM1W, ytitle: '温度[°C]', xlabels: true,
  box: {t: 'Stn.M1', x0: 20.67, x1: 23.78, y0: 17.78, y1: 16.73},
  labels: [{t: '気温', x: 18.63, y: 11.26, c: C.air, f: JPF}]
});
</script>
</body>
</html>
